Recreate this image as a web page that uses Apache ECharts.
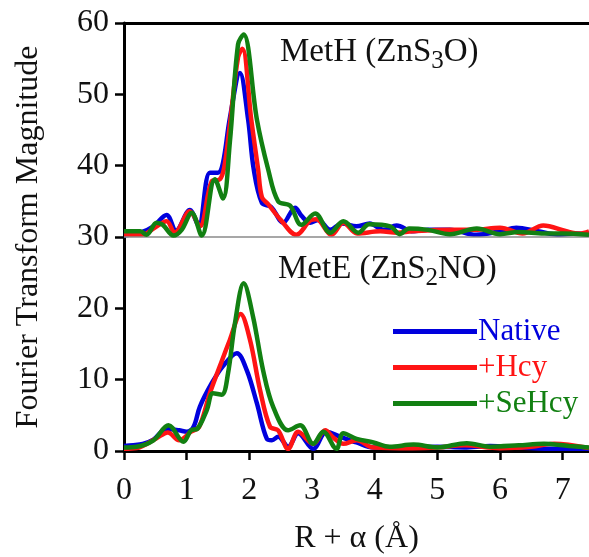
<!DOCTYPE html>
<html>
<head>
<meta charset="utf-8">
<script src="https://cdn.jsdelivr.net/npm/echarts@6/dist/echarts.min.js"></script>
<style>
  html, body { margin: 0; padding: 0; background: #fff; }
  #chart { width: 589px; height: 557px; }
</style>
</head>
<body>
<div id="chart"></div>
<script>
// Zn K-edge EXAFS Fourier transforms, R + alpha (Å) vs magnitude.
// MetH traces sit on a baseline offset of 30; MetE traces on 0.

const xTicks = [0, 1, 2, 3, 4, 5, 6, 7];
const yTicks = [0, 10, 20, 30, 40, 50, 60];
const seriesNames = ['Native', '+Hcy', '+SeHcy'];
const methBaseline = 30;

// MetH (ZnS3O), offset values as plotted
const methNative = [
  [0, 30.2], [0.26, 30.6], [0.47, 31.5], [0.68, 33.1], [0.83, 30.9], [1.05, 33.8],
  [1.19, 31.6], [1.37, 39.0], [1.50, 39.0], [1.58, 40.4], [1.69, 46.7], [1.85, 53.0],
  [1.98, 46.5], [2.07, 39.5], [2.20, 34.8], [2.35, 34.2], [2.54, 32.0], [2.73, 34.1],
  [2.83, 33.0], [2.97, 32.0], [3.10, 32.4], [3.29, 31.0], [3.48, 31.9], [3.71, 31.5],
  [3.92, 31.9], [4.14, 31.0], [4.35, 31.6], [4.61, 30.8], [4.85, 31.0], [5.20, 31.0],
  [5.62, 30.3], [6.00, 30.8], [6.26, 31.3], [6.60, 30.8], [6.96, 30.3], [7.20, 30.5],
  [7.42, 30.4]
];
const methHcy = [
  [0, 30.3], [0.30, 30.3], [0.47, 31.2], [0.68, 32.2], [0.81, 30.6], [1.05, 33.6],
  [1.21, 31.5], [1.40, 37.8], [1.53, 38.1], [1.60, 39.8], [1.69, 45.8], [1.82, 55.2],
  [1.89, 56.4], [2.03, 46.5], [2.14, 39.5], [2.20, 35.6], [2.30, 34.6], [2.50, 32.4],
  [2.75, 30.3], [2.97, 32.3], [3.07, 32.5], [3.31, 30.3], [3.50, 32.0], [3.72, 30.5],
  [4.09, 30.8], [4.36, 30.6], [4.60, 30.8], [5.20, 31.0], [5.60, 31.0], [6.00, 31.3],
  [6.36, 30.5], [6.69, 31.6], [7.06, 30.8], [7.27, 30.5], [7.42, 30.8]
];
const methSeHcy = [
  [0, 30.8], [0.26, 30.8], [0.36, 30.3], [0.52, 32.0], [0.62, 31.7], [0.79, 30.2],
  [0.92, 31.0], [1.08, 33.4], [1.24, 30.2], [1.45, 38.1], [1.58, 35.4], [1.69, 43.4],
  [1.82, 57.0], [1.91, 58.4], [2.12, 46.5], [2.30, 39.5], [2.46, 35.0], [2.65, 34.4],
  [2.83, 31.7], [3.05, 33.3], [3.29, 30.6], [3.50, 32.2], [3.74, 30.6], [3.91, 31.8],
  [4.25, 31.5], [4.40, 30.4], [4.55, 31.2], [4.85, 31.0], [5.20, 30.4], [5.63, 31.2],
  [6.00, 30.4], [6.30, 30.7], [6.70, 30.5], [7.00, 30.5], [7.42, 30.3]
];

// MetE (ZnS2NO)
const meteNative = [
  [0, 0.7], [0.15, 0.8], [0.30, 1.0], [0.47, 1.6], [0.68, 3.1], [0.88, 2.9],
  [1.00, 2.7], [1.11, 3.4], [1.21, 6.2], [1.40, 9.5], [1.58, 11.9], [1.80, 13.7],
  [1.96, 11.3], [2.12, 6.7], [2.28, 1.7], [2.36, 1.5], [2.46, 2.0], [2.62, 0.6],
  [2.78, 2.5], [3.02, 0.3], [3.23, 2.7], [3.45, 2.0], [3.71, 1.2], [3.98, 0.5],
  [4.50, 0.5], [5.00, 0.6], [5.43, 0.5], [5.84, 0.7], [6.30, 0.5], [6.90, 0.3],
  [7.42, 0.3]
];
const meteHcy = [
  [0, 0.3], [0.20, 0.4], [0.52, 1.8], [0.70, 2.6], [0.88, 1.5], [1.07, 2.7],
  [1.20, 3.4], [1.37, 8.1], [1.53, 11.9], [1.69, 15.6], [1.86, 19.2], [2.01, 15.6],
  [2.17, 8.6], [2.33, 3.4], [2.46, 2.9], [2.62, 0.3], [2.78, 2.7], [3.02, 1.0],
  [3.21, 2.9], [3.35, 1.8], [3.50, 1.0], [3.71, 1.5], [3.98, 0.5], [4.60, 0.4],
  [5.00, 0.5], [5.43, 0.8], [6.00, 0.4], [6.50, 0.6], [6.86, 1.0], [7.42, 0.4]
];
const meteSeHcy = [
  [0, 0.5], [0.20, 0.6], [0.47, 1.5], [0.71, 3.6], [0.95, 1.3], [1.07, 2.9],
  [1.17, 3.1], [1.32, 5.7], [1.42, 8.1], [1.56, 7.9], [1.66, 10.9], [1.77, 17.9],
  [1.91, 23.5], [2.06, 18.8], [2.22, 11.3], [2.38, 6.2], [2.62, 2.9], [2.81, 3.6],
  [3.02, 1.0], [3.18, 2.7], [3.39, 0.3], [3.50, 2.5], [3.71, 1.7], [3.98, 1.2],
  [4.24, 0.6], [4.62, 0.9], [5.00, 0.5], [5.47, 1.1], [5.84, 0.6], [6.30, 0.8],
  [6.70, 1.0], [7.10, 0.7], [7.42, 0.5]
];

const colors = ['#0000dd', '#ff1414', '#128012'];
const serif = "'Liberation Serif', 'Times New Roman', Times, serif";

const chart = echarts.init(document.getElementById('chart'), null, { renderer: 'canvas' });

function trace(name, data, idx, extra) {
  return Object.assign({
    name: name,
    type: 'line',
    data: data,
    smooth: 0.35,
    symbol: 'none',
    z: 3 + idx,
    lineStyle: { color: colors[idx], width: 4.5 },
    itemStyle: { color: colors[idx] }
  }, extra || {});
}

const richLabel = {
  n: { fontFamily: serif, fontSize: 33, fill: '#111' },
  s: { fontFamily: serif, fontSize: 25, fill: '#111', padding: [18, 0, 0, 0] }
};

chart.setOption({
  animation: false,
  backgroundColor: '#fff',
  grid: {
    left: 124, right: 0, top: 23, bottom: 106,
    containLabel: false, outerBoundsMode: 'none'
  },
  xAxis: [{
    type: 'value',
    min: 0, max: 7.42, interval: 1,
    name: 'R + α (Å)',
    nameLocation: 'middle',
    nameGap: 72,
    nameTextStyle: { fontFamily: serif, fontSize: 32, color: '#111' },
    axisLine: { lineStyle: { color: '#000', width: 3 } },
    axisTick: { length: 9, lineStyle: { color: '#000', width: 2.5 } },
    axisLabel: {
      fontFamily: serif, fontSize: 32, color: '#111', margin: 24,
      showMaxLabel: false,
      formatter: v => (xTicks.indexOf(v) >= 0 ? String(v) : '')
    },
    splitLine: { show: false }
  }, {
    type: 'value', position: 'top', min: 0, max: 7.42,
    axisLine: { show: true, onZero: false, lineStyle: { color: '#000', width: 3 } },
    axisTick: { show: false }, axisLabel: { show: false }, splitLine: { show: false }
  }],
  yAxis: {
    type: 'value',
    min: 0, max: 60, interval: 10,
    name: 'Fourier Transform Magnitude',
    nameLocation: 'middle',
    nameGap: 79,
    nameTextStyle: { fontFamily: serif, fontSize: 32, color: '#111' },
    axisLine: { show: true, lineStyle: { color: '#000', width: 3 } },
    axisTick: { show: true, length: 9, lineStyle: { color: '#000', width: 2.5 } },
    axisLabel: {
      fontFamily: serif, fontSize: 32, color: '#111', margin: 15,
      formatter: v => (yTicks.indexOf(v) >= 0 ? String(v) : '')
    },
    splitLine: { show: false }
  },
  legend: {
    data: seriesNames.map((n, i) => ({ name: n, textStyle: { color: colors[i] } })),
    orient: 'vertical',
    left: 388, top: 311,
    icon: 'rect',
    itemWidth: 84, itemHeight: 5,
    itemGap: 5,
    textStyle: { fontFamily: serif, fontSize: 31, padding: [0, 0, 0, -4] },
    selectedMode: false
  },
  graphic: [{
    type: 'text', left: 280, top: 36,
    style: { text: '{n|MetH (ZnS}{s|3}{n|O)}', rich: richLabel }
  }, {
    type: 'text', left: 278, top: 253,
    style: { text: '{n|MetE (ZnS}{s|2}{n|NO)}', rich: richLabel }
  }],
  series: [
    trace('Native', methNative, 0, {
      markLine: {
        silent: true, symbol: 'none', label: { show: false },
        lineStyle: { color: '#8a8a8a', width: 1.5, type: 'solid' },
        data: [{ yAxis: methBaseline }]
      }
    }),
    trace('+Hcy', methHcy, 1),
    trace('+SeHcy', methSeHcy, 2),
    trace('Native', meteNative, 0),
    trace('+Hcy', meteHcy, 1),
    trace('+SeHcy', meteSeHcy, 2)
  ]
});
</script>
</body>
</html>
